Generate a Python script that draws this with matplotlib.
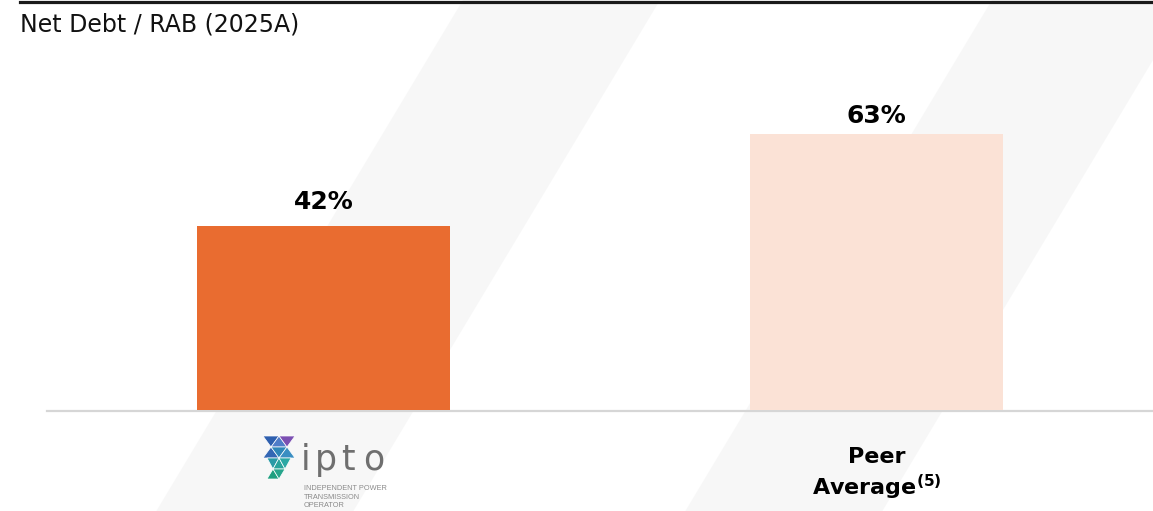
import matplotlib
matplotlib.use("Agg")
import matplotlib.pyplot as plt
from matplotlib.patches import Polygon
from matplotlib.lines import Line2D

# Data
categories = ["ipto", "Peer\nAverage$^{\\mathbf{(5)}}$"]
values = [42, 63]
value_labels = ["42%", "63%"]
bar_colors = ["#E96C30", "#FBE2D6"]

W, H = 1153, 511
fig = plt.figure(figsize=(W / 100, H / 100), dpi=100)
fig.patch.set_facecolor("white")


def px(x, y):
    # pixel coords measured from the top-left -> figure fraction
    return (x / W, 1 - y / H)


# faint diagonal watermark stripes
for x0 in (463, 992):
    pts = [px(x0, 0), px(x0 + 197, 0), px(x0 + 197 - 0.6 * H, H), px(x0 - 0.6 * H, H)]
    fig.patches.append(Polygon(pts, closed=True, transform=fig.transFigure,
                               facecolor="#F7F7F7", edgecolor="none", zorder=-10))

# top rule
fig.lines.append(Line2D([20 / W, 1], [1 - 1.7 / H] * 2, transform=fig.transFigure,
                        color="#1A1A1A", lw=2.3))

# title
fig.text(20 / W, 1 - 31 / H, "Net Debt / RAB (2025A)", fontsize=17,
         color="#111111", ha="left", va="baseline", family="DejaVu Sans")

# axes: baseline at y=410px, spans x 47..1153
ax = fig.add_axes([47 / W, 101 / H, 1 - 47 / W, 350 / H])
ax.set_facecolor("none")
ax.set_xlim(-0.5, 1.5)
ax.set_ylim(0, 80)
for s in ax.spines.values():
    s.set_visible(False)
ax.set_xticks([])
ax.set_yticks([])
ax.axhline(-0.2, color="#D6D6D6", lw=1.6, zorder=1, clip_on=False)

xs = list(range(len(values)))
bars = ax.bar(xs, values, width=0.4575, color=bar_colors, zorder=2)

label_pad = [17, 11]
for b, lab, pad in zip(bars, value_labels, label_pad):
    ax.annotate(lab, (b.get_x() + b.get_width() / 2, b.get_height()),
                xytext=(0, pad), textcoords="offset pixels", ha="center",
                va="baseline", fontsize=18, fontweight="bold", color="black")

# category label for the peer bar
ax.annotate(categories[1], (xs[1], 0), xytext=(0, -37), textcoords="offset pixels",
            ha="center", va="top", fontsize=16, fontweight="bold",
            color="black", linespacing=1.25, multialignment="center")

# ipto logo (drawn) under the first bar
tris = [
    ([(263, 436), (279, 436), (271, 447)], "#2E5FAE"),
    ([(271, 447), (287, 447), (279, 436)], "#4F7CC8"),
    ([(279, 436), (295, 436), (287, 447)], "#7B4FB2"),
    ([(263, 458), (279, 458), (271, 447)], "#3467B4"),
    ([(271, 447), (287, 447), (279, 458)], "#2F86B8"),
    ([(279, 458), (295, 458), (287, 447)], "#3A8EC2"),
    ([(267, 458), (279, 458), (273, 469)], "#2A9AA6"),
    ([(273, 469), (285, 469), (279, 458)], "#29A39C"),
    ([(279, 458), (291, 458), (285, 469)], "#2BA8A4"),
    ([(267, 479), (279, 479), (273, 469)], "#1F9F80"),
    ([(273, 469), (285, 469), (279, 479)], "#27A58C"),
]
for t, c in tris:
    fig.patches.append(Polygon([px(*p) for p in t], closed=True,
                               transform=fig.transFigure, facecolor=c,
                               edgecolor="white", lw=0.5))

for ch, cx in zip("ipto", [306, 326, 348, 374]):
    fig.text(cx / W, 1 - 470 / H, ch, fontsize=25, color="#6F6F6F",
             ha="center", va="baseline", family="DejaVu Sans")

for i, line in enumerate(["INDEPENDENT POWER", "TRANSMISSION", "OPERATOR"]):
    fig.text(304 / W, 1 - (490 + 8.5 * i) / H, line, fontsize=5.3,
             color="#8A8A8A", ha="left", va="baseline", family="Liberation Sans")

fig.savefig("out.png", dpi=100)
